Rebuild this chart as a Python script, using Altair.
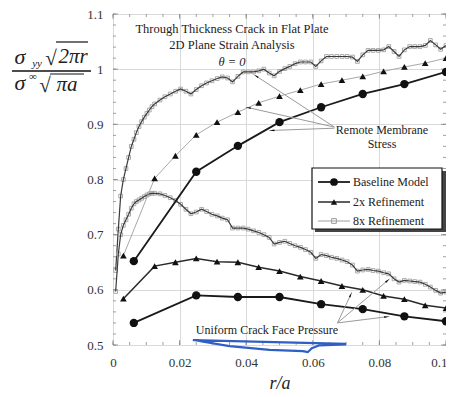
import math
import altair as alt
import pandas as pd

# ---------------- data ----------------
x_ticks = [0, 0.02, 0.04, 0.06, 0.08, 0.1]
y_ticks = [0.5, 0.6, 0.7, 0.8, 0.9, 1.0, 1.1]

base_x = [0.00625, 0.025, 0.0375, 0.05, 0.0625, 0.075, 0.0875, 0.1]
base_y_up = [0.652, 0.814, 0.861, 0.904, 0.931, 0.955, 0.973, 0.995]
base_y_lo = [0.540, 0.590, 0.587, 0.587, 0.574, 0.565, 0.552, 0.543]

tri_x = [0.003125, 0.0125, 0.01875, 0.025, 0.03125, 0.0375, 0.04375, 0.05,
         0.05625, 0.0625, 0.06875, 0.075, 0.08125, 0.0875, 0.09375, 0.1]
tri_y_up = [0.662, 0.802, 0.843, 0.881, 0.904, 0.922, 0.939, 0.951,
            0.962, 0.973, 0.980, 0.987, 0.996, 1.004, 1.011, 1.020]
tri_y_lo = [0.584, 0.643, 0.650, 0.657, 0.651, 0.650, 0.641, 0.634,
            0.624, 0.616, 0.607, 0.600, 0.589, 0.583, 0.572, 0.567]

x8 = [0.0008, 0.0016, 0.0023, 0.0031, 0.0039, 0.0047, 0.0055, 0.0063, 0.0070, 0.0078,
      0.0086, 0.0094, 0.0102, 0.0109, 0.0117, 0.0125,
      0.0141, 0.0156, 0.0172, 0.0188, 0.0203, 0.0219, 0.0234, 0.0250, 0.0266, 0.0281,
      0.0297, 0.0313, 0.0328, 0.0344, 0.0359, 0.0375, 0.0391, 0.0406, 0.0422, 0.0438,
      0.0453, 0.0469, 0.0484, 0.0500, 0.0516, 0.0531, 0.0547, 0.0563, 0.0578, 0.0594,
      0.0609, 0.0625, 0.0641, 0.0656, 0.0672, 0.0688, 0.0703, 0.0719, 0.0734, 0.0750,
      0.0766, 0.0781, 0.0797, 0.0813, 0.0828, 0.0844, 0.0859, 0.0875, 0.0891, 0.0906,
      0.0922, 0.0938, 0.0953, 0.0969, 0.0984, 0.1000]
y8_up = [0.635, 0.710, 0.770, 0.800, 0.820, 0.840, 0.860, 0.873, 0.885, 0.896,
         0.905, 0.913, 0.920, 0.926, 0.932, 0.937,
         0.944, 0.950, 0.955, 0.960, 0.964, 0.960, 0.955, 0.963, 0.970, 0.975,
         0.979, 0.983, 0.986, 0.984, 0.977, 0.987, 0.995, 0.995, 0.995, 0.997,
         1.000, 0.993, 0.988, 0.996, 1.001, 1.005, 1.010, 1.013, 1.013, 1.013,
         1.005, 1.015, 1.023, 1.023, 1.023, 1.023, 1.023, 1.022, 1.014, 1.026,
         1.034, 1.034, 1.034, 1.035, 1.041, 1.032, 1.023, 1.035, 1.041, 1.041,
         1.041, 1.043, 1.052, 1.044, 1.036, 1.043]
y8_lo = [0.597, 0.665, 0.700, 0.717, 0.727, 0.737, 0.748, 0.756, 0.760, 0.763,
         0.766, 0.769, 0.772, 0.774, 0.775, 0.775,
         0.774, 0.771, 0.767, 0.762, 0.755, 0.746, 0.738, 0.741, 0.746, 0.742,
         0.737, 0.734, 0.730, 0.727, 0.712, 0.712, 0.712, 0.710, 0.707, 0.704,
         0.700, 0.695, 0.683, 0.686, 0.688, 0.684, 0.680, 0.677, 0.673, 0.668,
         0.657, 0.664, 0.662, 0.659, 0.657, 0.654, 0.651, 0.645, 0.634, 0.636,
         0.637, 0.635, 0.634, 0.631, 0.629, 0.620, 0.614, 0.617, 0.616, 0.615,
         0.614, 0.610, 0.605, 0.599, 0.594, 0.596]

# annotation leader lines (data units)
rm_x0 = [0.0665, 0.0665, 0.0665]
rm_y0 = [0.895, 0.895, 0.893]
rm_x1 = [0.0431, 0.0408, 0.0479]
rm_y1 = [0.987, 0.930, 0.889]
uc_x0 = [0.0674, 0.0674, 0.0674]
uc_y0 = [0.540, 0.540, 0.540]
uc_x1 = [0.0713, 0.0823, 0.0820]
uc_y1 = [0.590, 0.616, 0.551]

# hand-drawn blue mark under the lower note
blue_x = [0.070, 0.024, 0.035, 0.047, 0.057, 0.0585, 0.0597, 0.062, 0.070]
blue_y = [0.502, 0.509, 0.498, 0.491, 0.489, 0.487, 0.494, 0.4995, 0.501]

legend_labels = ["Baseline Model", "2x Refinement", "8x Refinement"]

# ---------------- layout ----------------
W, H = 333, 331
SERIF = "Liberation Serif"
xscale = alt.Scale(domain=[0, 0.1], nice=False, zero=False)
yscale = alt.Scale(domain=[0.5, 1.1], nice=False, zero=False)
xaxis = alt.Axis(values=x_ticks, format="~g", grid=True, gridColor="#d9d9d9",
                 ticks=False, domain=False, labelFont=SERIF, labelFontSize=13,
                 labelColor="#333", labelPadding=11, title="", labelFlush=False,
                 labelAlign={"condition": {"test": "datum.value >= 0.099", "value": "right"},
                             "value": "center"},
                 labelOffset={"condition": {"test": "datum.value >= 0.099", "value": 1},
                              "value": 0})
yaxis = alt.Axis(values=y_ticks, format="~g", grid=True, gridColor="#d9d9d9",
                 ticks=False, domain=False, labelFont=SERIF, labelFontSize=13,
                 labelColor="#333", labelPadding=10, title="")


def X(f="x"):
    return alt.X(f"{f}:Q", scale=xscale, axis=xaxis)


def Y(f="y"):
    return alt.Y(f"{f}:Q", scale=yscale, axis=yaxis)


def px(xv):
    return xv / 0.1 * W


def py(yv):
    return (1.1 - yv) / 0.6 * H


layers = []

# tick marks (inward, all four sides)
y_minor = [round(0.5 + 0.02 * i, 2) for i in range(31)]
x_minor = [round(0.005 * i, 3) for i in range(21)]
dy_min = pd.DataFrame({"y": y_minor})
dy_maj = pd.DataFrame({"y": y_ticks})
dx_min = pd.DataFrame({"x": x_minor})
dx_maj = pd.DataFrame({"x": x_ticks})
tc = "#888"
for d, L in ((dy_min, 3), (dy_maj, 5)):
    layers.append(alt.Chart(d).mark_rule(color=tc, strokeWidth=0.8).encode(
        y=Y(), x=alt.value(0), x2=alt.value(L)))
    layers.append(alt.Chart(d).mark_rule(color=tc, strokeWidth=0.8).encode(
        y=Y(), x=alt.value(W), x2=alt.value(W - L)))
for d, L in ((dx_min, 3), (dx_maj, 5)):
    layers.append(alt.Chart(d).mark_rule(color=tc, strokeWidth=0.8).encode(
        x=X(), y=alt.value(H), y2=alt.value(H - L)))
    layers.append(alt.Chart(d).mark_rule(color=tc, strokeWidth=0.8).encode(
        x=X(), y=alt.value(0), y2=alt.value(L)))

# 8x refinement
for yy in (y8_up, y8_lo):
    d = pd.DataFrame({"x": x8, "y": yy})
    layers.append(alt.Chart(d).mark_point(shape="square", size=14, filled=False,
                                          color="#a0a0a0", strokeWidth=0.9, opacity=1).encode(x=X(), y=Y()))
    layers.append(alt.Chart(d).mark_line(color="#3a3a3a", strokeWidth=1.2).encode(x=X(), y=Y()))

# 2x refinement
d = pd.DataFrame({"x": tri_x, "y": tri_y_up})
layers.append(alt.Chart(d).mark_line(color="#a8a8a8", strokeWidth=1.0).encode(x=X(), y=Y()))
layers.append(alt.Chart(d).mark_point(shape="triangle-up", size=45, filled=True,
                                      color="#111", opacity=1).encode(x=X(), y=Y()))
d = pd.DataFrame({"x": tri_x, "y": tri_y_lo})
layers.append(alt.Chart(d).mark_line(color="#2a2a2a", strokeWidth=1.5).encode(x=X(), y=Y()))
layers.append(alt.Chart(d).mark_point(shape="triangle-up", size=45, filled=True,
                                      color="#111", opacity=1).encode(x=X(), y=Y()))

# baseline
for yy in (base_y_up, base_y_lo):
    d = pd.DataFrame({"x": base_x, "y": yy})
    layers.append(alt.Chart(d).mark_line(color="#1a1a1a", strokeWidth=1.8).encode(x=X(), y=Y()))
    layers.append(alt.Chart(d).mark_point(shape="circle", size=70, filled=True,
                                          color="#111", opacity=1).encode(x=X(), y=Y()))

# annotation leaders + arrowheads
for xs0, ys0, xs1, ys1 in ((rm_x0, rm_y0, rm_x1, rm_y1), (uc_x0, uc_y0, uc_x1, uc_y1)):
    ang = []
    for a, b, c, e in zip(xs0, ys0, xs1, ys1):
        dxp = px(c) - px(a)
        dyp = py(e) - py(b)
        ang.append(math.degrees(math.atan2(dxp, -dyp)) % 360)
    d = pd.DataFrame({"x": xs0, "y": ys0, "x2": xs1, "y2": ys1, "ang": ang})
    layers.append(alt.Chart(d).mark_rule(color="#9a9a9a", strokeWidth=1.0).encode(
        x=X(), y=Y(), x2="x2:Q", y2="y2:Q"))
    layers.append(alt.Chart(d).mark_point(shape="wedge", size=45, filled=True,
                                          color="#111", opacity=1).encode(
        x=X("x2"), y=Y("y2"), angle=alt.Angle("ang:Q", scale=None)))

# blue scribble
d = pd.DataFrame({"x": blue_x, "y": blue_y, "i": list(range(len(blue_x)))})
layers.append(alt.Chart(d).mark_line(color="#2f5fc4", strokeWidth=2.2).encode(
    x=X(), y=Y(), order="i:Q"))

one = pd.DataFrame({"a": [0]})


def txt(s, x, y, size=12, style="normal", align="center", color="#222", baseline="middle", font=SERIF):
    return alt.Chart(one).mark_text(text=s, font=font, fontSize=size, fontStyle=style,
                                    align=align, baseline=baseline, color=color).encode(
        x=alt.value(x), y=alt.value(y))


def rule(x1, y1, x2, y2, color="#111", w=1.0):
    return alt.Chart(one).mark_rule(color=color, strokeWidth=w).encode(
        x=alt.value(x1), y=alt.value(y1), x2=alt.value(x2), y2=alt.value(y2))


# legend box
layers.append(alt.Chart(one).mark_rect(fill="#444").encode(
    x=alt.value(202), x2=alt.value(333), y=alt.value(157), y2=alt.value(218)))
layers.append(alt.Chart(one).mark_rect(fill="white", stroke="#111", strokeWidth=1.2).encode(
    x=alt.value(199), x2=alt.value(329), y=alt.value(154), y2=alt.value(215)))
ly = [168, 188, 207]
layers.append(rule(205, ly[0], 237, ly[0], "#1a1a1a", 1.8))
layers.append(alt.Chart(one).mark_point(shape="circle", size=60, filled=True, color="#111", opacity=1).encode(
    x=alt.value(221), y=alt.value(ly[0])))
layers.append(rule(205, ly[1], 237, ly[1], "#2a2a2a", 1.5))
layers.append(alt.Chart(one).mark_point(shape="triangle-up", size=40, filled=True, color="#111", opacity=1).encode(
    x=alt.value(221), y=alt.value(ly[1])))
layers.append(rule(205, ly[2], 237, ly[2], "#b0b0b0", 1.2))
layers.append(alt.Chart(one).mark_point(shape="square", size=22, filled=False, color="#999", strokeWidth=1, opacity=1).encode(
    x=alt.value(221), y=alt.value(ly[2])))
for yv, lab in zip(ly, legend_labels):
    layers.append(txt(lab, 240, yv, size=12, align="left"))

# plot notes
layers.append(txt("Through Thickness Crack in Flat Plate", 119, 15, size=12.5))
layers.append(txt("2D Plane Strain Analysis", 119, 31, size=12.5))
layers.append(txt("θ = 0", 119, 48, size=12.5, style="italic"))
layers.append(txt("Remote Membrane", 269, 116, size=12))
layers.append(txt("Stress", 269, 130, size=12))
layers.append(txt("Uniform Crack Face Pressure", 154, 316, size=12))

# y axis title (fraction)
layers.append(txt("σ", -93, 43, size=22, style="italic"))
layers.append(txt("yy", -76, 50, size=11, style="italic"))
layers.append(txt("√", -62, 45, size=21))
layers.append(txt("2πr", -40, 43, size=21, style="italic"))
layers.append(rule(-57, 28, -25, 28, "#111", 1.2))
layers.append(rule(-101, 57, -22, 57, "#111", 1.6))
layers.append(txt("σ", -93, 69, size=22, style="italic"))
layers.append(txt("∞", -80, 63, size=11))
layers.append(txt("√", -68, 72, size=21))
layers.append(txt("πa", -46, 71, size=21, style="italic"))
layers.append(rule(-63, 60, -29, 60, "#111", 1.2))

# x axis title
layers.append(txt("r/a", 167, 375, size=18, style="italic", baseline="alphabetic"))

chart = alt.layer(*layers).properties(
    width=W, height=H,
    autosize=alt.AutoSizeParams(type="none"),
    padding={"left": 105, "top": 6, "right": 0, "bottom": 52},
).configure_view(stroke="#9a9a9a", strokeWidth=1)

chart.save("out.html", embed_options={"renderer": "svg", "actions": False})
